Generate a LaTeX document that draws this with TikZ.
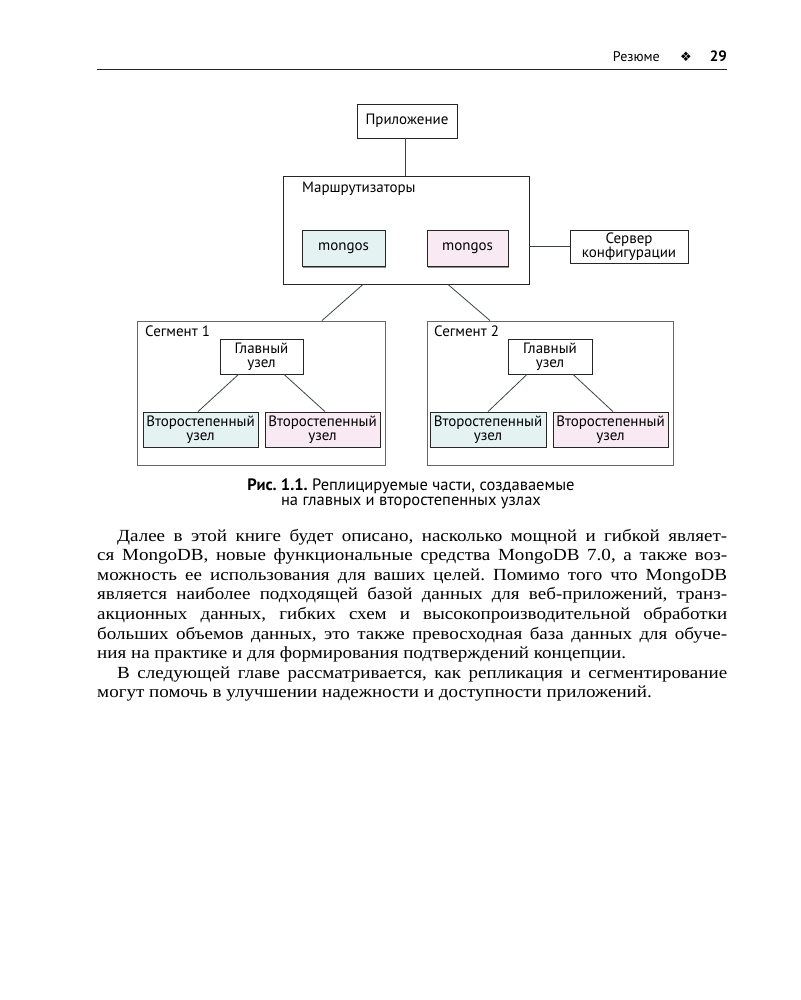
\documentclass[tikz,border=0pt]{standalone}
\usepackage{fontspec}
\setmainfont[FakeStretch=1.12]{Liberation Serif}
\newfontfamily\diagfont{PT Sans}
\newfontfamily\symfont{DejaVu Sans}
\usetikzlibrary{shadows,calc}
\definecolor{cyanfill}{HTML}{E5F2F2}
\definecolor{pinkfill}{HTML}{F8E9F2}
\definecolor{linecol}{HTML}{3A4548}
\frenchspacing
\begin{document}
\begin{tikzpicture}[x=1pt,y=-1pt,
  dbox/.style={draw=black!85, line width=0.8pt, fill=white, inner sep=0pt, align=center,
    font=\diagfont\fontsize{15}{14}\selectfont,
    drop shadow={shadow xshift=1pt, shadow yshift=-1pt, fill=black!45, opacity=1}},
  groupbox/.style={draw=black!60, line width=0.9pt, inner sep=0pt},
  conn/.style={draw=linecol, line width=0.8pt},
  glabel/.style={anchor=west, inner sep=0pt, font=\diagfont\fontsize{15}{14}\selectfont},
  bodyline/.style={anchor=base west, inner sep=0pt, font=\fontsize{17}{19}\selectfont},
  caption/.style={inner sep=0pt, font=\diagfont\fontsize{16.5}{16}\selectfont}]
\fill[white] (0,0) rectangle (800,1000);
\useasboundingbox (0,0) rectangle (800,1000);

% header
\node[anchor=base east, inner sep=0pt, font=\diagfont\fontsize{14}{14}\selectfont] (hdr) at (660,62) {Резюме};
\node[anchor=base, inner sep=0pt, font=\symfont\fontsize{13}{13}\selectfont] (hsym) at (686,62) {❖};
\node[anchor=base east, inner sep=0pt, font=\diagfont\bfseries\fontsize{15}{15}\selectfont] (hnum) at (727,62) {29};
\coordinate (ruleL) at (97,69.5);
\coordinate (ruleR) at (727,69.5);
\draw[line width=1pt, black!85] (ruleL) -- (ruleR);

% diagram
\node[dbox, minimum width=100pt, minimum height=34pt] (app) at (407,121) {Приложение};
\node[groupbox, draw=black!85, minimum width=246pt, minimum height=108pt] (router) at (406,230) {};
\node[glabel] (routerlbl) at (302,189) {Маршрутизаторы};
\node[dbox, fill=cyanfill, minimum width=83pt, minimum height=36pt] (mongos1) at (343.5,248.5) {mongos};
\node[dbox, fill=pinkfill, minimum width=81pt, minimum height=36pt] (mongos2) at (467.5,248.5) {mongos};
\node[dbox, minimum width=118pt, minimum height=33pt] (config) at (629,246.5) {Сервер\\конфигурации};

\node[groupbox, minimum width=248pt, minimum height=144pt] (seg1) at (261,393) {};
\node[glabel] (seg1lbl) at (145,331) {Сегмент 1};
\node[dbox, minimum width=83pt, minimum height=35pt] (m1) at (261.5,356.5) {Главный\\узел};
\node[dbox, fill=cyanfill, minimum width=115pt, minimum height=35pt] (s11) at (200.5,429.5) {Второстепенный\\узел};
\node[dbox, fill=pinkfill, minimum width=115pt, minimum height=35pt] (s12) at (322.5,429.5) {Второстепенный\\узел};

\node[groupbox, minimum width=246pt, minimum height=144pt] (seg2) at (550,393) {};
\node[glabel] (seg2lbl) at (434,331) {Сегмент 2};
\node[dbox, minimum width=84pt, minimum height=35pt] (m2) at (550,356.5) {Главный\\узел};
\node[dbox, fill=cyanfill, minimum width=116pt, minimum height=35pt] (s21) at (488,429.5) {Второстепенный\\узел};
\node[dbox, fill=pinkfill, minimum width=115pt, minimum height=35pt] (s22) at (610.5,429.5) {Второстепенный\\узел};

% connectors
\draw[conn] ([xshift=-2pt]app.south) -- ([xshift=-2pt]app.south |- router.north);
\draw[conn] (router.east |- config.west) -- (config.west);
\draw[conn] ([xshift=-43pt]router.south) -- ([xshift=61pt]seg1.north);
\draw[conn] ([xshift=42pt]router.south) -- ([xshift=-60pt]seg2.north);
\draw[conn] ([xshift=-23pt]m1.south) -- ([xshift=-2.5pt]s11.north);
\draw[conn] ([xshift=22.5pt]m1.south) -- ([xshift=2.5pt]s12.north);
\draw[conn] ([xshift=-23pt]m2.south) -- (s21.north);
\draw[conn] ([xshift=23pt]m2.south) -- ([xshift=2.5pt]s22.north);

% caption
\node[caption] (cap1) at (411,486) {\textbf{Рис. 1.1.} Реплицируемые части, создаваемые};
\node[caption] (cap2) at (411,503) {на главных и второстепенных узлах};

% body text
\node[bodyline] (b1) at (117,541) {\makebox[610pt][s]{Далее в этой книге будет описано, насколько мощной и гибкой являет-}};
\node[bodyline] (b2) at (97,560.6) {\makebox[630pt][s]{ся MongoDB, новые функциональные средства MongoDB 7.0, а также воз-}};
\node[bodyline] (b3) at (97,580.2) {\makebox[630pt][s]{можность ее использования для ваших целей. Помимо того что MongoDB}};
\node[bodyline] (b4) at (97,599.8) {\makebox[630pt][s]{является наиболее подходящей базой данных для веб-приложений, транз-}};
\node[bodyline] (b5) at (97,619.4) {\makebox[630pt][s]{акционных данных, гибких схем и высокопроизводительной обработки}};
\node[bodyline] (b6) at (97,639) {\makebox[630pt][s]{больших объемов данных, это также превосходная база данных для обуче-}};
\node[bodyline] (b7) at (97,658.6) {ния на практике и для формирования подтверждений концепции.};
\node[bodyline] (b8) at (117,678.2) {\makebox[610pt][s]{В следующей главе рассматривается, как репликация и сегментирование}};
\node[bodyline] (b9) at (97,697.8) {могут помочь в улучшении надежности и доступности приложений.};
\end{tikzpicture}
\end{document}
